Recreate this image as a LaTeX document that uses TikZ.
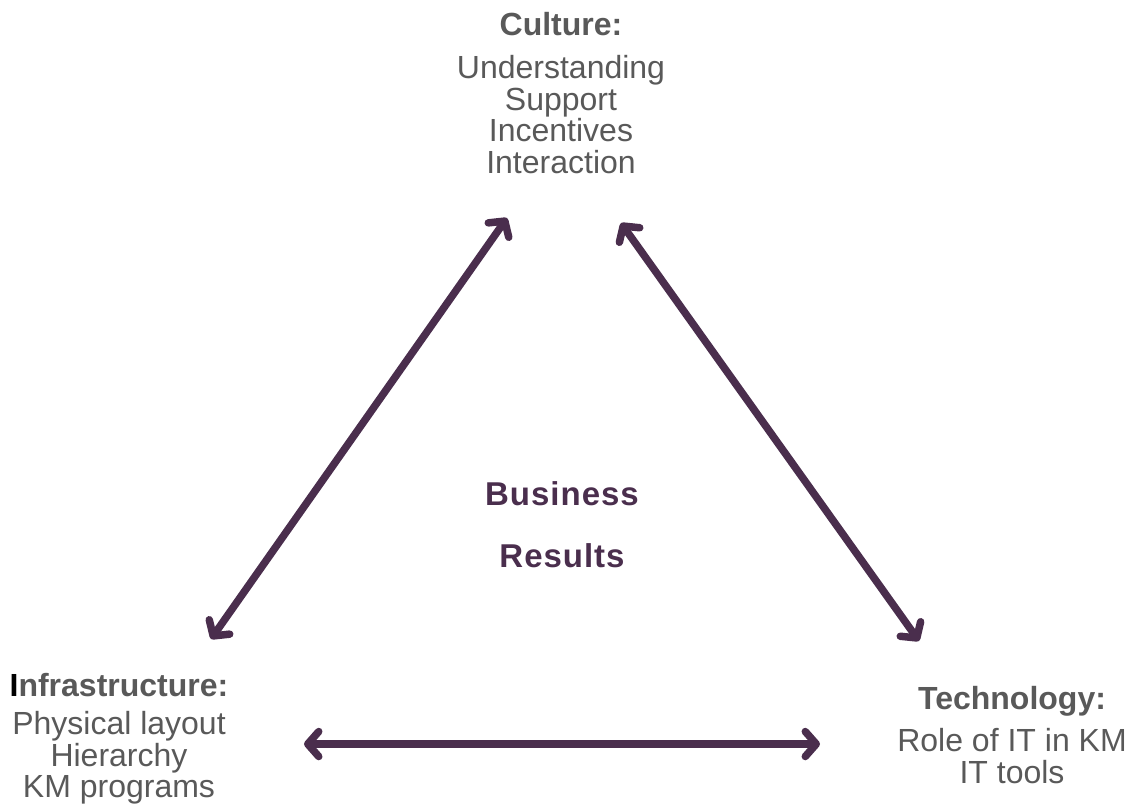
\documentclass[tikz,border=0pt]{standalone}
\usepackage{fontspec}
\setmainfont{Liberation Sans}
\usepackage{tikz}
\usetikzlibrary{arrows.meta,positioning}
\definecolor{plum}{HTML}{4A2E4D}
\definecolor{slate}{HTML}{595959}
\tikzset{
    >={Straight Barb[length=11pt,width=25pt,line cap=round,line join=round]},
    area/.style={align=center,inner sep=0pt,anchor=north,text=slate,
        font=\fontsize{32}{31.5}\selectfont},
    core/.style={align=center,inner sep=0pt,anchor=north,text=plum,
        font=\fontsize{33}{33}\selectfont\bfseries\addfontfeatures{LetterSpace=3}},
    link/.style={<->,draw=plum,line width=7.5pt,line cap=round}
}

\begin{document}
\begin{tikzpicture}[x=1pt,y=-1pt]
    \useasboundingbox (0,0) rectangle (1131,804);
    \node[area] (culture) at (561,12) {\textbf{Culture:}\\[12pt]Understanding\\Support\\Incentives\\Interaction};
    \node[area] (infra) at (119,673) {\textbf{{\color{black}I}nfrastructure:}\\[7pt]Physical layout\\Hierarchy\\KM programs};
    \node[area] (tech) at (1012,686) {\textbf{Technology:}\\[11pt]Role of IT in KM\\IT tools};
    \node[core] (results) at (562,481) {Business\\[29pt]Results};
    % ends of the three arrows
    \coordinate (cul-l) at (507,218);
    \coordinate (cul-r) at (621,223);
    \coordinate (inf-t) at (211,639);
    \coordinate (inf-r) at (304,744);
    \coordinate (tec-t) at (919,641);
    \coordinate (tec-l) at (820,744);
    \draw[link] (inf-t) -- (cul-l);
    \draw[link] (cul-r) -- (tec-t);
    \draw[link] (inf-r) -- (tec-l);
\end{tikzpicture}
\end{document}
